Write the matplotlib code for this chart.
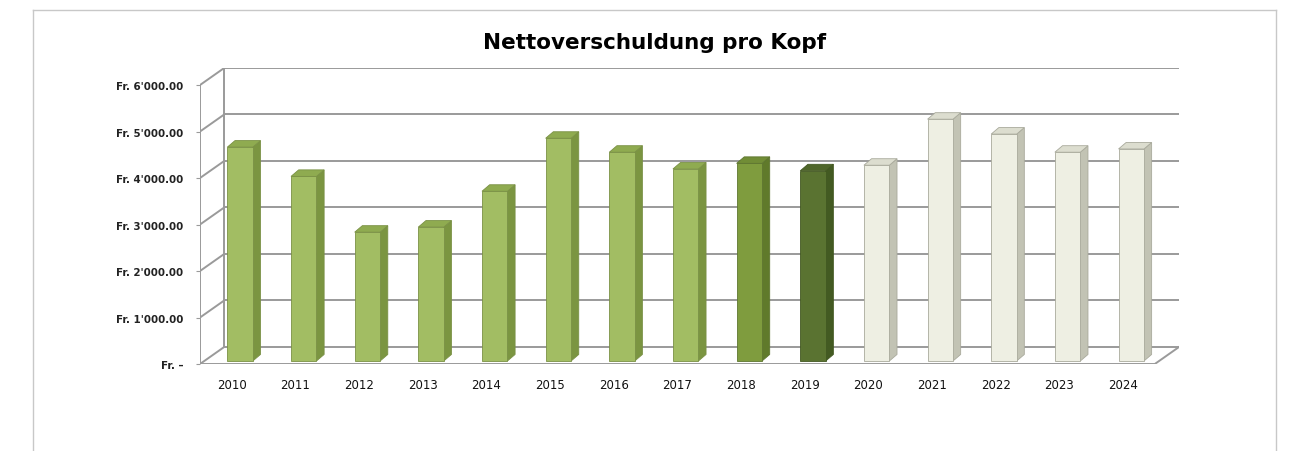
import matplotlib.pyplot as plt
from matplotlib.patches import Polygon
from matplotlib.lines import Line2D

# data
years = ["2010", "2011", "2012", "2013", "2014", "2015", "2016", "2017",
         "2018", "2019", "2020", "2021", "2022", "2023", "2024"]
values = [4600, 3970, 2770, 2880, 3650, 4790, 4490, 4130,
          4250, 4090, 4210, 5200, 4880, 4490, 4560]
ticks = [0, 1000, 2000, 3000, 4000, 5000, 6000]
tick_labels = ["Fr. \u2013", "Fr. 1'000.00", "Fr. 2'000.00", "Fr. 3'000.00",
               "Fr. 4'000.00", "Fr. 5'000.00", "Fr. 6'000.00"]

# colours: (front, side, top, edge)
light = ("#a2bd63", "#7b9541", "#8fab50", "#7a9145")
mid = ("#7f9c3e", "#607a2b", "#718d36", "#5e7630")
dark = ("#5a7331", "#435a22", "#4f6629", "#425821")
cream = ("#eeefe3", "#c2c3b4", "#dcddcf", "#a9aa9c")
styles = [light] * 8 + [mid, dark] + [cream] * 5

# fake 3d geometry in data units
dx, dy = 0.38, 366        # depth of the wall / floor
sx, sy = 0.13, 65         # bar position inside the depth
w = 0.40                  # bar front width
bdx, bdy = 0.12, 140      # bar depth
grid_col = "#9a9a9a"

fig = plt.figure(figsize=(12.93, 4.52), dpi=100)
W, H = 1293, 452
left, bottom = 200 / W, 1 - 365 / H
ax = fig.add_axes([left, bottom, (1179 - 200) / W, (365 - 69) / H])
n = len(years)
ax.set_xlim(-0.5, n - 0.5 + dx)
ax.set_ylim(0, 6000 + dy)
for s in ax.spines.values():
    s.set_visible(False)

# walls and gridlines
x_l, x_r = -0.5, n - 0.5
for t in ticks:
    ax.plot([x_l + dx, x_r + dx], [t + dy, t + dy], color=grid_col, lw=1.4, zorder=1)
    ax.plot([x_l, x_l + dx], [t, t + dy], color=grid_col, lw=1.4, zorder=1)
ax.plot([x_l, x_l], [0, 6000], color=grid_col, lw=1.4, zorder=1)
ax.plot([x_l + dx, x_l + dx], [dy, 6000 + dy], color=grid_col, lw=1.4, zorder=1)
ax.plot([x_l, x_r, x_r + dx], [0, 0, dy], color=grid_col, lw=1.4, zorder=1)

# bars
for i, (v, st) in enumerate(zip(values, styles)):
    front, side, top, edge = st
    x0 = i + sx - w / 2
    x1 = x0 + w
    y0, y1 = sy, sy + v
    ax.bar(i + sx, v, width=w, bottom=sy, color=front, edgecolor=edge,
           lw=0.6, zorder=3)
    ax.add_patch(Polygon([(x1, y0), (x1 + bdx, y0 + bdy), (x1 + bdx, y1 + bdy),
                          (x1, y1)], closed=True, fc=side, ec=edge, lw=0.6,
                         zorder=2))
    ax.add_patch(Polygon([(x0, y1), (x1, y1), (x1 + bdx, y1 + bdy),
                          (x0 + bdx, y1 + bdy)], closed=True, fc=top, ec=edge,
                         lw=0.6, zorder=3))

ax.set_yticks(ticks)
ax.set_yticklabels(tick_labels, fontsize=7.4, fontweight="bold", color="#222222")
ax.tick_params(axis="y", length=3, color=grid_col, pad=9)
ax.set_xticks(range(n))
ax.set_xticklabels(years, fontsize=8.5, color="#111111")
ax.tick_params(axis="x", length=0, pad=10)

fig.text(655 / W, 1 - 43 / H, "Nettoverschuldung pro Kopf", ha="center",
         va="center", fontsize=15.5, fontweight="bold", color="black")

# chart border
bc = "#c8c8c8"
fig.add_artist(Line2D([33 / W, 1276 / W], [1 - 11 / H, 1 - 11 / H], color=bc, lw=1))
fig.add_artist(Line2D([33 / W, 33 / W], [0, 1 - 11 / H], color=bc, lw=1))
fig.add_artist(Line2D([1276 / W, 1276 / W], [0, 1 - 11 / H], color=bc, lw=1))

fig.savefig("out.png", dpi=100)
